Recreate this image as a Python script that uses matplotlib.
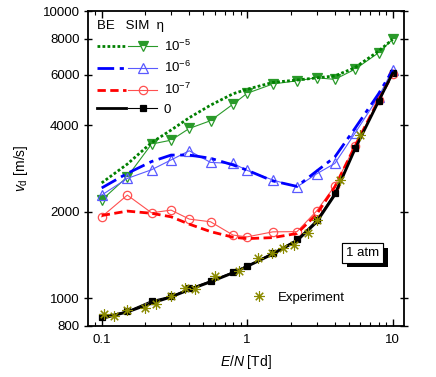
import numpy as np
import matplotlib
matplotlib.use("Agg")
import matplotlib.pyplot as plt
from matplotlib.ticker import FixedLocator, FixedFormatter, NullFormatter, LogLocator
from matplotlib.legend_handler import HandlerTuple
import matplotlib.patheffects as pe

plt.rcParams["font.family"] = ["Liberation Sans", "DejaVu Sans"]
plt.rcParams["mathtext.fontset"] = "custom"
plt.rcParams["mathtext.rm"] = "Liberation Sans"
plt.rcParams["mathtext.it"] = "Liberation Sans:italic"

# reduced field E/N [Td], common grid of the simulations / BE solutions
EN = [0.1, 0.15, 0.22, 0.3, 0.4, 0.56, 0.8, 1.0, 1.5, 2.2, 3.0, 4.0, 5.5, 8.0, 10.0]

# Boltzmann equation (BE) drift velocities [m/s]
be_1e5 = [2520, 2930, 3480, 3850, 4250, 4700, 5150, 5340, 5640, 5750, 5850, 5940, 6350, 7250, 7970]
be_1e6 = [2420, 2720, 2990, 3150, 3150, 3070, 2910, 2790, 2560, 2450, 2770, 3100, 3900, 5150, 6230]
be_1e7 = [1940, 2010, 1975, 1920, 1810, 1705, 1630, 1612, 1625, 1680, 1960, 2440, 3380, 4900, 6030]
be_0 = [850, 895, 960, 1010, 1070, 1140, 1225, 1290, 1425, 1585, 1840, 2290, 3300, 4850, 6080]

# Monte Carlo simulation (SIM) drift velocities [m/s]
sim_1e5 = [2195, 2646, 3440, 3550, 3900, 4150, 4740, 5170, 5570, 5715, 5856, 5780, 6266, 7154, 7970]
sim_1e6 = [2286, 2612, 2800, 3030, 3260, 2970, 2945, 2785, 2580, 2440, 2710, 2945, 3750, 5030, 6230]
sim_1e7 = [1920, 2285, 1983, 2026, 1885, 1845, 1658, 1635, 1702, 1705, 2012, 2460, 3385, 4900, 6030]
sim_0 = [861, 901, 979, 1016, 1081, 1149, 1235, 1298, 1438, 1601, 1870, 2327, 3330, 4850, 6080]

# experimental data
exp_EN = [0.104, 0.122, 0.15, 0.2, 0.237, 0.3, 0.372, 0.436, 0.598, 0.874,
          1.19, 1.47, 1.75, 2.1, 2.63, 3.0, 4.34, 5.96]
exp_v = [880, 865, 913, 921, 953, 1016, 1086, 1072, 1196, 1245,
         1375, 1438, 1490, 1530, 1680, 1870, 2577, 3698]

eta_labels = ["$10^{-5}$", "$10^{-6}$", "$10^{-7}$", "0"]
yticks = [800, 1000, 2000, 4000, 6000, 8000, 10000]

FS = 9.5

fig = plt.figure(figsize=(4.36, 3.77), dpi=100)
ax = fig.add_axes([0.2018, 0.1353, 0.7248, 0.8355])

series = [
    (be_1e5, sim_1e5, "#008000", "#2a9a2a", (0, (1, 0.8)), "v", "top", 6.5),
    (be_1e6, sim_1e6, "#0000ff", "#5a5aff", (0, (6, 2, 1.5, 2)), "^", "none", 6.5),
    (be_1e7, sim_1e7, "#ff0000", "#ff5050", (0, (3, 1.6)), "o", "none", 6.0),
    (be_0, sim_0, "black", "black", "-", "s", "full", 5.0),
]

handles = []
for be, sim, c_be, c_sim, ls, mk, fs, ms in series:
    l_sim, = ax.plot(EN, sim, color=c_sim, lw=0.8, marker=mk, ms=ms,
                     mfc=c_sim if fs != "none" else "white", mec=c_sim, fillstyle=fs,
                     markerfacecoloralt="white", mew=0.9, zorder=3)
    l_be, = ax.plot(EN, be, color=c_be, lw=2.0, ls=ls, zorder=4)
    handles.append((l_be, l_sim))

exp_line, = ax.plot(exp_EN, exp_v, ls="none", marker=(8, 2, 0), ms=7.5, mec="#8a8a00",
                    mew=0.8, color="#8a8a00", zorder=5)

ax.set_xscale("log")
ax.set_yscale("log")
ax.set_xlim(0.0805, 11.96)
ax.set_ylim(800, 10000)

ax.yaxis.set_major_locator(FixedLocator(yticks))
ax.yaxis.set_major_formatter(FixedFormatter([str(t) for t in yticks]))
ax.yaxis.set_minor_locator(FixedLocator([]))
ax.yaxis.set_minor_formatter(NullFormatter())
ax.xaxis.set_major_locator(FixedLocator([0.1, 1, 10]))
ax.xaxis.set_major_formatter(FixedFormatter(["0.1", "1", "10"]))
ax.xaxis.set_minor_locator(LogLocator(base=10, subs=np.arange(2, 10)))
ax.xaxis.set_minor_formatter(NullFormatter())

ax.tick_params(axis="y", which="major", direction="inout", length=6, width=1.0,
               right=True, labelsize=FS, pad=3)
ax.tick_params(axis="x", which="major", direction="in", length=5, width=1.0,
               top=True, labelsize=FS, pad=6)
ax.tick_params(axis="x", which="minor", direction="in", length=3, width=0.8, top=True)
for sp in ax.spines.values():
    sp.set_linewidth(1.3)

ax.set_xlabel("$E/N$ [Td]", fontsize=FS + 0.5, labelpad=5)
ax.set_ylabel("$v_{\\mathrm{d}}$ [m/s]", fontsize=FS + 0.5, labelpad=9)

leg = ax.legend(handles, eta_labels, handler_map={tuple: HandlerTuple(ndivide=None, pad=0.15)},
                loc="upper left", bbox_to_anchor=(-0.01, 1.01), frameon=False,
                handlelength=4.6, handletextpad=0.5, labelspacing=0.5, fontsize=FS,
                title="BE   SIM  \u03b7", title_fontsize=FS, numpoints=1,
                alignment="left")
ax.add_artist(leg)

ax.legend([exp_line], ["Experiment"], loc="center left", bbox_to_anchor=(0.48, 0.09),
          frameon=False, handlelength=1.2, handletextpad=0.8, fontsize=FS, numpoints=1)

t = ax.text(0.869, 0.233, "1 atm", transform=ax.transAxes, ha="center", va="center",
            fontsize=FS, zorder=6,
            bbox=dict(boxstyle="square,pad=0.3", fc="white", ec="black", lw=0.8))
t.get_bbox_patch().set_path_effects([pe.withSimplePatchShadow(offset=(3.5, -3.5),
                                                              shadow_rgbFace="black", alpha=1.0),
                                     pe.Normal()])

fig.savefig("out.png", dpi=100)
